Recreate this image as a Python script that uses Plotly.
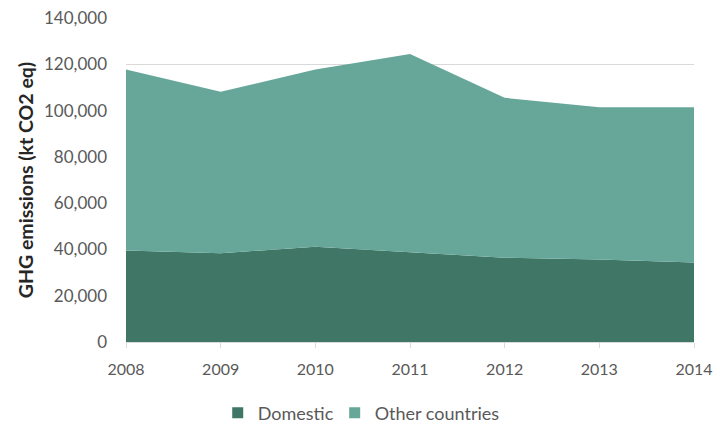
import plotly.graph_objects as go

years = [2008, 2009, 2010, 2011, 2012, 2013, 2014]
domestic = [39500, 38300, 41200, 38700, 36400, 35700, 34400]
total = [117800, 108100, 117800, 124400, 105500, 101400, 101400]
other = [t - d for t, d in zip(total, domestic)]
y_ticks = [0, 20000, 40000, 60000, 80000, 100000, 120000, 140000]
series_names = ["Domestic", "Other countries"]
colors = ["#3f7666", "#67a79a"]

fig = go.Figure()
for name, vals, col in zip(series_names, [domestic, other], colors):
    fig.add_trace(go.Scatter(x=years, y=vals, name=name, stackgroup="one",
                             mode="lines", line=dict(width=0, color=col),
                             fillcolor=col, showlegend=False))
# legend entries with square markers
for name, col, lg in zip(series_names, colors, ["legend", "legend2"]):
    fig.add_trace(go.Scatter(x=[None], y=[None], name=name, mode="markers",
                             marker=dict(symbol="square", size=11, color=col),
                             showlegend=True, legend=lg))

legend_common = dict(orientation="h", xanchor="left", y=-0.219, yanchor="middle",
                     font=dict(size=18, color="#595959"), itemclick=False,
                     bgcolor="rgba(0,0,0,0)")

fig.update_layout(
    width=713, height=423,
    margin=dict(l=126, r=19, t=18, b=81, autoexpand=False),
    plot_bgcolor="white", paper_bgcolor="white",
    font=dict(family="Lato, Open Sans, sans-serif", size=17, color="#595959"),
    showlegend=True,
    legend=dict(x=0.1615, **legend_common),
    legend2=dict(x=0.3674, **legend_common),
    xaxis=dict(range=[2008, 2014], tickmode="array", tickvals=years,
               ticktext=[str(y) for y in years], showgrid=False,
               showline=True, linecolor="#d9d9d9", linewidth=1,
               ticks="outside", tickcolor="#d9d9d9", ticklen=5, zeroline=False,
               ticklabelstandoff=8, tickfont=dict(size=16)),
    yaxis=dict(range=[0, 140000], tickvals=y_ticks, tickformat=",",
               showgrid=True, gridcolor="#d9d9d9", gridwidth=1, zeroline=False,
               ticks="", ticklabelstandoff=18,
               title=dict(text="<b>GHG emissions (kt CO2 eq)</b>",
                          font=dict(size=19.5, color="#262626"), standoff=5)),
)

fig.write_html("out.html")
